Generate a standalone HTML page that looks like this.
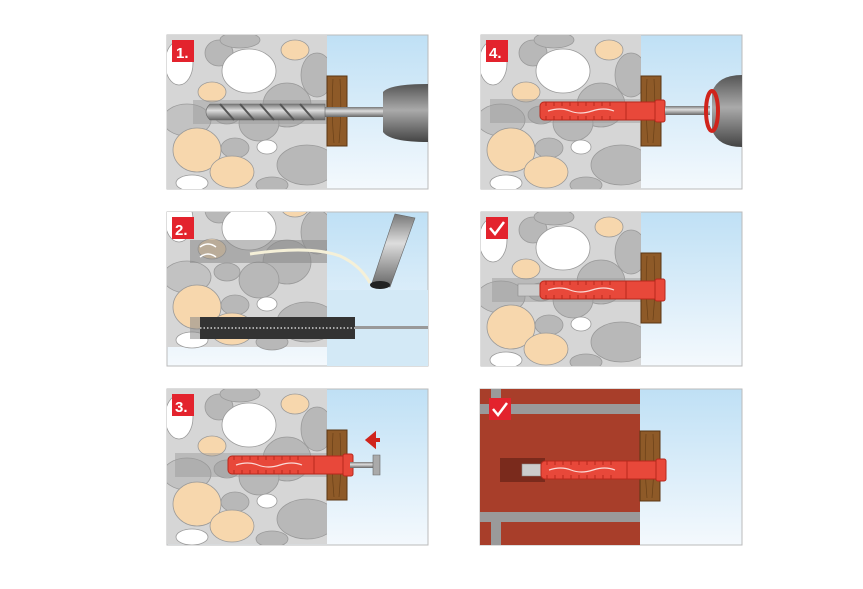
<!DOCTYPE html>
<html><head><meta charset="utf-8"><style>html,body{margin:0;padding:0;background:#fff}svg{display:block}</style></head>
<body>
<svg width="863" height="589" viewBox="0 0 863 589" xmlns="http://www.w3.org/2000/svg" font-family="Liberation Sans, sans-serif">
<defs>
<linearGradient id="sky" x1="0" y1="0" x2="0" y2="1"><stop offset="0" stop-color="#bfe0f5"/><stop offset="1" stop-color="#f4f9fd"/></linearGradient>
<linearGradient id="steel" x1="0" y1="0" x2="0" y2="1"><stop offset="0" stop-color="#777"/><stop offset="0.4" stop-color="#ddd"/><stop offset="1" stop-color="#666"/></linearGradient>
<linearGradient id="chuck" x1="0" y1="0" x2="0" y2="1"><stop offset="0" stop-color="#555"/><stop offset="0.45" stop-color="#aaa"/><stop offset="1" stop-color="#444"/></linearGradient>
<g id="stones">
<rect x="0" y="0" width="160" height="155" fill="#d6d6d6"/>
<g stroke="#9a9a9a" stroke-width="0.8">
<ellipse cx="12" cy="28" rx="14" ry="22" fill="#fff"/>
<ellipse cx="52" cy="18" rx="14" ry="13" fill="#b8b8b8"/>
<ellipse cx="82" cy="36" rx="27" ry="22" fill="#fff"/>
<ellipse cx="73" cy="5" rx="20" ry="8" fill="#b8b8b8"/>
<ellipse cx="128" cy="15" rx="14" ry="10" fill="#f7d7ad"/>
<ellipse cx="45" cy="57" rx="14" ry="10" fill="#f7d7ad"/>
<ellipse cx="120" cy="70" rx="24" ry="22" fill="#b8b8b8"/>
<ellipse cx="150" cy="40" rx="16" ry="22" fill="#b8b8b8"/>
<ellipse cx="92" cy="88" rx="20" ry="18" fill="#b8b8b8"/>
<ellipse cx="20" cy="85" rx="24" ry="16" fill="#c2c2c2"/>
<ellipse cx="60" cy="80" rx="13" ry="9" fill="#b8b8b8"/>
<ellipse cx="30" cy="115" rx="24" ry="22" fill="#f7d7ad"/>
<ellipse cx="68" cy="113" rx="14" ry="10" fill="#b8b8b8"/>
<ellipse cx="100" cy="112" rx="10" ry="7" fill="#fff"/>
<ellipse cx="65" cy="137" rx="22" ry="16" fill="#f7d7ad"/>
<ellipse cx="140" cy="130" rx="30" ry="20" fill="#b8b8b8"/>
<ellipse cx="25" cy="148" rx="16" ry="8" fill="#fff"/>
<ellipse cx="105" cy="150" rx="16" ry="8" fill="#b8b8b8"/>
</g>
</g>
<g id="wood"><rect x="0" y="0" width="20" height="70" fill="#8e5a28" stroke="#5a3513" stroke-width="1"/><path d="M6 3 Q4 35 7 67 M13 3 Q15 35 12 67" stroke="#6a4018" fill="none" stroke-width="0.7"/></g>
<g id="dowel">
<rect x="0" y="-9" width="118" height="18" rx="4" fill="#e8483a" stroke="#b8281c" stroke-width="1"/>
<rect x="115" y="-11" width="10" height="22" rx="2" fill="#e8483a" stroke="#b8281c" stroke-width="1"/>
<path d="M6 -9 v4 M14 -9 v4 M22 -9 v4 M30 -9 v4 M38 -9 v4 M46 -9 v4 M54 -9 v4 M62 -9 v4 M70 -9 v4 M6 5 v4 M14 5 v4 M22 5 v4 M30 5 v4 M38 5 v4 M46 5 v4 M54 5 v4 M62 5 v4 M70 5 v4" stroke="#b8281c" stroke-width="1"/>
<path d="M8 0 Q20 -4 30 0 T52 0 T74 0" stroke="#fff" stroke-width="1.2" fill="none" opacity="0.8"/>
<line x1="86" y1="-9" x2="86" y2="9" stroke="#b8281c"/>
</g>
<g id="badge"><rect x="0" y="0" width="22" height="22" fill="#e3232d"/></g>
</defs>

<!-- Panel 1 -->
<g>
<rect x="167" y="35" width="261" height="154" fill="url(#sky)" stroke="#bbb"/>
<svg x="167" y="35" width="160" height="154"><use href="#stones"/></svg>
<rect x="193" y="100" width="135" height="24" fill="#999" opacity="0.45"/>
<use href="#wood" x="327" y="76"/>
<rect x="320" y="107" width="65" height="10" fill="url(#steel)"/>
<path d="M210 104 L325 104 L325 120 L210 120 Q202 112 210 104Z" fill="url(#steel)" stroke="#666" stroke-width="0.6"/>
<path d="M220 104 l14 16 M240 104 l14 16 M260 104 l14 16 M280 104 l14 16 M300 104 l14 16" stroke="#555" stroke-width="2"/>
<path d="M383 92 Q390 84 428 84 L428 142 Q390 142 383 132Z" fill="url(#chuck)"/>
<rect x="172" y="40" width="22" height="22" fill="#e3232d"/>
<text x="176" y="58" fill="#fff" font-size="15" font-weight="bold">1.</text>
</g>

<!-- Panel 4 -->
<g>
<rect x="481" y="35" width="261" height="154" fill="url(#sky)" stroke="#bbb"/>
<svg x="481" y="35" width="160" height="154"><use href="#stones"/></svg>
<rect x="490" y="99" width="150" height="24" fill="#999" opacity="0.45"/>
<use href="#wood" x="641" y="76"/>
<use href="#dowel" x="540" y="111"/>
<rect x="665" y="106" width="45" height="9" fill="url(#steel)"/>
<path d="M712 92 Q718 75 742 75 L742 147 Q718 147 712 130Z" fill="url(#chuck)"/>
<ellipse cx="712" cy="111" rx="6" ry="20" fill="none" stroke="#d0241c" stroke-width="4"/>
<rect x="486" y="40" width="22" height="22" fill="#e3232d"/>
<text x="489" y="58" fill="#fff" font-size="15" font-weight="bold">4.</text>
</g>

<!-- Panel 2 -->
<g>
<rect x="167" y="212" width="261" height="154" fill="url(#sky)" stroke="#bbb"/>
<rect x="327" y="290" width="101" height="76" fill="#d3e9f6"/>
<svg x="167" y="212" width="160" height="154"><use href="#stones" transform="translate(0,-20)"/></svg>
<rect x="190" y="240" width="137" height="23" fill="#888" opacity="0.55"/>
<path d="M200 247 q8 -6 16 0 M200 257 q8 -6 16 0" stroke="#fff" fill="none" stroke-width="1.5"/>
<path d="M250 254 Q310 245 340 256 Q360 265 370 283" stroke="#f5f0d8" stroke-width="3" fill="none"/>
<path d="M372 283 L395 214 L415 218 L390 287Z" fill="url(#steel)" stroke="#666" stroke-width="0.6"/>
<ellipse cx="380" cy="285" rx="10" ry="4" fill="#222"/>
<rect x="190" y="317" width="140" height="22" fill="#888" opacity="0.55"/>
<rect x="200" y="317" width="155" height="22" fill="#333"/>
<path d="M200 328 H355" stroke="#aaa" stroke-width="2" stroke-dasharray="1.5 2"/>
<rect x="355" y="326" width="73" height="3" fill="#999"/>
<rect x="172" y="217" width="22" height="22" fill="#e3232d"/>
<text x="175" y="235" fill="#fff" font-size="15" font-weight="bold">2.</text>
</g>

<!-- Panel 5 -->
<g>
<rect x="481" y="212" width="261" height="154" fill="url(#sky)" stroke="#bbb"/>
<svg x="481" y="212" width="160" height="154"><use href="#stones"/></svg>
<rect x="492" y="278" width="150" height="24" fill="#999" opacity="0.45"/>
<use href="#wood" x="641" y="253"/>
<path d="M518 284 L540 284 L540 296 L518 296 Z" fill="#ccc" stroke="#888" stroke-width="0.6"/>
<use href="#dowel" x="540" y="290"/>
<rect x="486" y="217" width="22" height="22" fill="#e3232d"/>
<path d="M490 228 l5 6 l9 -12" stroke="#fff" stroke-width="2.5" fill="none"/>
</g>

<!-- Panel 3 -->
<g>
<rect x="167" y="389" width="261" height="156" fill="url(#sky)" stroke="#bbb"/>
<svg x="167" y="389" width="160" height="156"><use href="#stones"/></svg>
<rect x="175" y="453" width="155" height="24" fill="#999" opacity="0.45"/>
<use href="#wood" x="327" y="430"/>
<use href="#dowel" x="228" y="465"/>
<rect x="350" y="462" width="25" height="6" fill="url(#steel)"/>
<path d="M373 455 L380 455 L380 475 L373 475 Z" fill="#aaa" stroke="#666" stroke-width="0.6"/>
<path d="M380 440 H368 M368 440 l6 -5 v10 z" stroke="#d0241c" stroke-width="4" fill="#d0241c"/>
<rect x="172" y="394" width="22" height="22" fill="#e3232d"/>
<text x="175" y="412" fill="#fff" font-size="15" font-weight="bold">3.</text>
</g>

<!-- Panel 6 -->
<g>
<rect x="480" y="389" width="262" height="156" fill="url(#sky)" stroke="#bbb"/>
<rect x="480" y="389" width="160" height="156" fill="#a83e2a"/>
<rect x="480" y="404" width="160" height="10" fill="#9a9a9a"/>
<rect x="480" y="512" width="160" height="10" fill="#9a9a9a"/>
<rect x="491" y="389" width="10" height="15" fill="#9a9a9a"/>
<rect x="491" y="522" width="10" height="23" fill="#9a9a9a"/>
<use href="#wood" x="640" y="431"/>
<rect x="500" y="458" width="45" height="24" fill="#7a2a1c"/>
<path d="M522 464 L545 464 L545 476 L522 476 Z" fill="#ccc" stroke="#888" stroke-width="0.6"/>
<use href="#dowel" x="541" y="470"/>
<rect x="489" y="398" width="22" height="22" fill="#e3232d"/>
<path d="M493 409 l5 6 l9 -12" stroke="#fff" stroke-width="2.5" fill="none"/>
</g>
</svg>
</body></html>
